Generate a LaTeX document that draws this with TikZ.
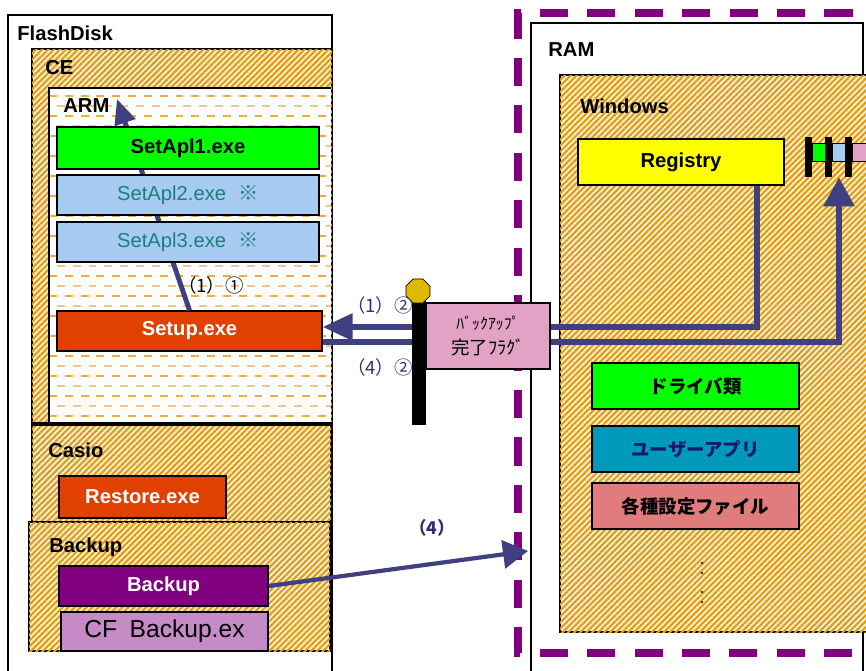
\documentclass[tikz,border=0pt]{standalone}
\usepackage{fontspec}
\setmainfont{Liberation Sans}
\newfontfamily\jp{Noto Sans CJK JP}
\usepackage{tikz}
\usetikzlibrary{arrows.meta, positioning, shapes.geometric, patterns.meta}

\definecolor{arrblue}{HTML}{404080}
\definecolor{hatchbg}{HTML}{FBF0C8}
\definecolor{hatchor}{HTML}{DC9C20}
\definecolor{armdash}{HTML}{EFAE3A}
\definecolor{apgreen}{HTML}{00FF00}
\definecolor{aplblue}{HTML}{A6CAF0}
\definecolor{aptxt}{HTML}{1A7F7F}
\definecolor{setupred}{HTML}{E04000}
\definecolor{bkpurple}{HTML}{800080}
\definecolor{cfpink}{HTML}{C68AC6}
\definecolor{regyellow}{HTML}{FFFF00}
\definecolor{userblue}{HTML}{0099BB}
\definecolor{usertxt}{HTML}{1A1A6A}
\definecolor{setsalmon}{HTML}{E07C7C}
\definecolor{flagpink}{HTML}{E2A2C6}
\definecolor{knob}{HTML}{E0B800}
\definecolor{steptxt}{HTML}{303070}

\begin{document}
\begin{tikzpicture}[
    x=0.02cm, y=-0.02cm,
    box/.style={draw, line width=0.8pt, align=center, inner sep=0pt, font=\bfseries\fontsize{11.5}{13}\selectfont},
    hatch/.style={draw, line width=0.6pt, fill=hatchbg, postaction={pattern={Lines[angle=45,distance=2.4pt,line width=1.2pt]}, pattern color=hatchor}},
    lbl/.style={anchor=west, inner sep=0pt, font=\bfseries\fontsize{11.5}{13}\selectfont},
    steplbl/.style={inner sep=0pt, text=steptxt, font=\jp\fontsize{10.5}{12}\selectfont},
    arr/.style={draw=arrblue, line width=3.4pt, -{Triangle[length=0.6cm, width=0.56cm]}}
]
\useasboundingbox (0,0) rectangle (866,670);
\clip (0,0) rectangle (866,670);

% FlashDisk side
\draw[fill=white, line width=0.6pt] (8,15) rectangle (332,700);
\draw[hatch] (32,49) rectangle (332,425);
\fill[white] (49,88) rectangle (331,423);
\begin{scope}
  \clip (49,88) rectangle (331,423);
  \foreach \y in {96,116,...,416} \draw[armdash, line width=1.1pt, dash pattern=on 4.5pt off 4.5pt] (49,\y) -- (331,\y);
  \foreach \y in {106,126,...,416} \draw[armdash!70!brown!60, line width=1.1pt, dash pattern=on 4.5pt off 4.5pt, dash phase=4.5pt] (49,\y) -- (331,\y);
\end{scope}
\draw[line width=0.8pt] (49,423) -- (49,88) -- (331,88);
\draw[hatch] (32,425) rectangle (331,522);
\draw[hatch] (29,522) rectangle (330,651);
\draw[line width=2pt] (32,424) -- (332,424);

\node[lbl] (flashdisk) at (17,33) {FlashDisk};
\node[lbl] (ce) at (45,68) {CE};
\node[lbl] (arm) at (63,106) {ARM};
\node[lbl] (casio) at (48,450) {Casio};
\node[lbl] (backup) at (49,547) {Backup};

\node[box, fill=setupred, text=white, minimum width=5.3cm, minimum height=0.8cm] (setup) at (189.5,331) {Setup.exe};
\coordinate (armtip) at (117,99);
\draw[arr, line width=2.8pt, -{Triangle[length=0.5cm, width=0.42cm]}] (setup.north) -- (armtip);

\node[box, fill=apgreen, minimum width=5.24cm, minimum height=0.84cm] (setapl1) at (188,148) {SetApl1.exe};
\node[box, fill=aplblue, text=aptxt, font=\fontsize{11.5}{13}\selectfont, minimum width=5.24cm, minimum height=0.8cm] (setapl2) at (188,195) {SetApl2.exe\hspace{0.25cm}{\jp ※}};
\node[box, fill=aplblue, text=aptxt, font=\fontsize{11.5}{13}\selectfont, minimum width=5.24cm, minimum height=0.8cm] (setapl3) at (188,242) {SetApl3.exe\hspace{0.25cm}{\jp ※}};
\node[box, fill=setupred, text=white, minimum width=3.34cm, minimum height=0.84cm] (restore) at (142.5,497) {Restore.exe};
\node[box, fill=bkpurple, text=white, minimum width=4.18cm, minimum height=0.8cm] (backupexe) at (163.5,586) {Backup};
\node[box, fill=cfpink, font=\fontsize{14}{16}\selectfont, minimum width=4.14cm, minimum height=0.78cm] (cfbackup) at (164.5,631.5) {CF\hspace{0.25cm}Backup.ex};

% RAM side
\draw[fill=white, line width=0.6pt] (531,23) rectangle (863,700);
\draw[hatch] (560,75) rectangle (900,632);
\node[lbl] (ram) at (548,50) {RAM};
\node[lbl] (windows) at (580,106) {Windows};

\node[box, fill=regyellow, minimum width=4.12cm, minimum height=0.92cm] (registry) at (681,162) {Registry};
\node[box, fill=apgreen, font=\jp\bfseries\fontsize{10.5}{12}\selectfont, minimum width=4.14cm, minimum height=0.92cm] (driver) at (695.5,386) {ドライバ類};
\node[box, fill=userblue, text=usertxt, font=\jp\bfseries\fontsize{10.5}{12}\selectfont, minimum width=4.14cm, minimum height=0.92cm] (userapp) at (695.5,449) {ユーザーアプリ};
\node[box, fill=setsalmon, font=\jp\bfseries\fontsize{10.5}{12}\selectfont, minimum width=4.14cm, minimum height=0.92cm] (settings) at (695.5,506) {各種設定ファイル};
\foreach \y in {563,573,592,602} \fill[gray!40!black] (702,\y) circle (1.3);

% flag icon
\fill[apgreen] (812,143) rectangle (825,161);
\fill[aplblue] (832,143) rectangle (845,161);
\fill[flagpink] (852,143) rectangle (866,161);
\draw[line width=0.5pt] (812,143) rectangle (825,161) (832,143) rectangle (845,161) (852,143) rectangle (866,161);
\foreach \x in {805,825,845} \fill[black] (\x,137) rectangle ++(7,40);
\node[minimum width=1.2cm, minimum height=0.8cm, inner sep=0pt] (flagicon) at (835,157) {};

\draw[bkpurple, line width=4pt, dash pattern=on 16pt off 11pt] (900,13) -- (518,13) -- (518,653) -- (900,653);

% connectors
\coordinate (bend1) at (757,327);
\coordinate (bend2) at (839,342);
\draw[arr, -{Triangle[length=0.6cm, width=0.52cm]}] (registry.south -| bend1) -- (bend1) -- (setup.east |- bend1);
\draw[arr, -{Triangle[length=0.58cm, width=0.6cm]}] (setup.east |- bend2) -- (bend2) -- (flagicon.south -| bend2);

\node[fill=black, minimum width=0.28cm, minimum height=2.56cm, inner sep=0pt] (pole) at (419,361) {};
\node[regular polygon, regular polygon sides=8, draw, fill=knob, minimum size=0.52cm, inner sep=0pt] (knobtop) at (418,291) {};
\node[box, fill=flagpink, font=\jp\fontsize{9}{14}\selectfont, minimum width=2.48cm, minimum height=1.32cm] (flag) at (488,336) {ﾊﾞｯｸｱｯﾌﾟ\\{\fontsize{10.5}{14}\selectfont 完了ﾌﾗｸﾞ}};

\coordinate (ramin) at (528,551);
\draw[arr, line width=2.4pt, -{Triangle[length=0.5cm, width=0.56cm]}] (backupexe.east) -- (ramin);

\node[steplbl, text=black] (s11) at (211,285) {（1）①};
\node[steplbl] (s12) at (380,305) {（1）②};
\node[steplbl] (s42) at (380,367) {（4）②};
\node[steplbl, font=\jp\bfseries\fontsize{10}{12}\selectfont] (s4) at (432,528) {（4）};
\end{tikzpicture}
\end{document}
